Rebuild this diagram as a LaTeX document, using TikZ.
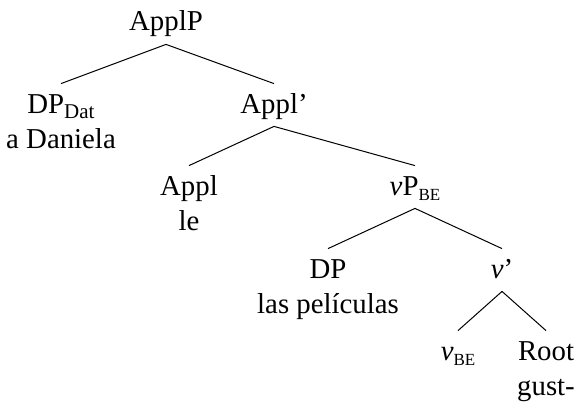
\documentclass[tikz,border=0pt]{standalone}
\usepackage{fontspec}
\setmainfont{Liberation Serif}
\usetikzlibrary{positioning}
\newcommand{\subdat}[1]{\raisebox{-2.5pt}{\fontsize{10.5}{12}\selectfont #1}}
\newcommand{\subsc}[1]{\raisebox{-2.5pt}{\fontsize{8.5}{10}\selectfont #1}}
\tikzset{
    cat/.style={anchor=base, inner sep=0pt, text height=14.5pt, text depth=6.5pt},
    lex/.style={inner sep=0pt, text height=11pt, text depth=3pt},
    branch/.style={line width=0.5pt}
}
\begin{document}
\begin{tikzpicture}[x=0.5pt, y=-0.5pt, font=\fontsize{14.4}{17.3}\selectfont]
    \useasboundingbox (0,0) rectangle (576,401);

    % Level 0
    \node[cat] (ApplP) at (166,31) {ApplP};

    % Level 1
    \node[cat] (DPdat) at (61,113) {DP\subdat{Dat}};
    \node[lex, below=0pt of DPdat] (Daniela) {a Daniela};
    \node[cat] (ApplBar) at (274,113) {Appl’};

    % Level 2
    \node[cat] (Appl) at (189,195) {Appl};
    \node[lex, below=0pt of Appl] (le) {le};
    \node[cat] (vP) at (415,195) {\textit{v}P\subsc{BE}};

    % Level 3
    \node[cat] (DP) at (328,278) {DP};
    \node[lex, below=0pt of DP] (peliculas) {las películas};
    \node[cat] (vBar) at (502,278) {\textit{v}’};

    % Level 4
    \node[cat] (vBE) at (458,360) {\textit{v}\subsc{BE}};
    \node[cat] (Root) at (546,360) {Root};
    \node[lex, below=0pt of Root] (gust) {gust-};

    % Branches
    \draw[branch] (ApplP.south) -- (DPdat.north);
    \draw[branch] (ApplP.south) -- (ApplBar.north);
    \draw[branch] (ApplBar.south) -- (Appl.north);
    \draw[branch] (ApplBar.south) -- (vP.north);
    \draw[branch] (vP.south) -- (DP.north);
    \draw[branch] (vP.south) -- (vBar.north);
    \draw[branch] (vBar.south) -- (vBE.north);
    \draw[branch] (vBar.south) -- (Root.north);

\end{tikzpicture}
\end{document}
